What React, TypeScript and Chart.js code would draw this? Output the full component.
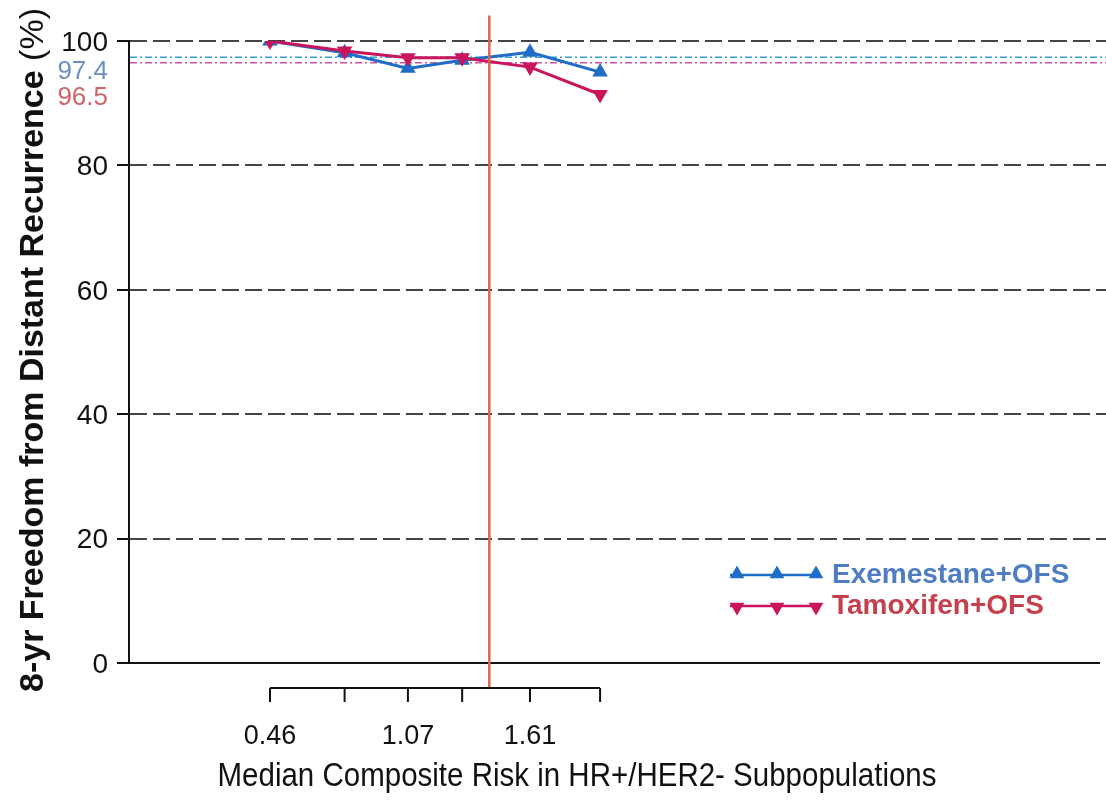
import React, { useEffect, useRef } from 'react';
import { Chart, registerables } from 'chart.js';

Chart.register(...registerables);

// ---- data ----
const riskValues = [0.46, 0.79, 1.07, 1.31, 1.61, 1.92];
const riskTickLabels = ['0.46', '', '1.07', '', '1.61', ''];
const exemestaneOFS = [100, 98.1, 95.6, 96.9, 98.2, 95.0];
const tamoxifenOFS = [100, 98.4, 97.3, 97.3, 95.8, 91.4];
const overallRates = [97.4, 96.5];
const overallLabels = ['97.4', '96.5'];
const seriesNames = ['Exemestane+OFS', 'Tamoxifen+OFS'];
const cutPoint = 1.43;
const yTitleBold = '8-yr Freedom from Distant Recurrence';
const yTitleUnit = '(%)';
const xTitle = 'Median Composite Risk in HR+/HER2- Subpopulations';

// ---- styles ----
const FONT = '"Liberation Sans", Arial, Helvetica, sans-serif';
const EXE_COLOR = '#1f6dc6';
const TAM_COLOR = '#c8155c';
const EXE_TEXT = '#4e7dc1';
const TAM_TEXT = '#c4404c';
const REF_COLORS = ['#3a9fd0', '#c8559a'];
const REF_TEXT = ['#6b8fc2', '#d0626a'];
const CUT_COLOR = '#e0654f';

function triangle(ctx: CanvasRenderingContext2D, cx: number, cy: number, r: number, down: boolean) {
  const s = down ? -1 : 1;
  ctx.beginPath();
  ctx.moveTo(cx, cy - s * r);
  ctx.lineTo(cx + r * 0.866, cy + s * r * 0.5);
  ctx.lineTo(cx - r * 0.866, cy + s * r * 0.5);
  ctx.closePath();
  ctx.fill();
}

const decorations = {
  id: 'decorations',
  beforeDatasetsDraw(chart: any) {
    const { ctx, chartArea: ca, scales } = chart;
    const y = scales.y;
    ctx.save();
    // solid baseline at 0
    ctx.strokeStyle = '#111';
    ctx.lineWidth = 2;
    ctx.beginPath();
    const y0 = y.getPixelForValue(0);
    ctx.moveTo(ca.left, y0);
    ctx.lineTo(ca.right - 6, y0);
    ctx.stroke();
    // overall reference lines (dash-dot)
    overallRates.forEach((v, i) => {
      const py = y.getPixelForValue(v);
      ctx.setLineDash([7, 3, 2, 3]);
      ctx.strokeStyle = REF_COLORS[i];
      ctx.lineWidth = 1.5;
      ctx.beginPath();
      ctx.moveTo(ca.left + 1, py);
      ctx.lineTo(ca.right, py);
      ctx.stroke();
    });
    ctx.restore();
  },
  afterDatasetsDraw(chart: any) {
    const { ctx, chartArea: ca, scales } = chart;
    const x = scales.x;
    const y = scales.y;
    ctx.save();

    // vertical cut-point line
    const cx = x.getPixelForValue(cutPoint);
    const axisY = ca.bottom + 25;
    ctx.strokeStyle = CUT_COLOR;
    ctx.lineWidth = 2.5;
    ctx.beginPath();
    ctx.moveTo(cx, y.getPixelForValue(104.1));
    ctx.lineTo(cx, axisY);
    ctx.stroke();

    // x axis (drawn only over the data range)
    const xFirst = x.getPixelForValue(riskValues[0]);
    const xLast = x.getPixelForValue(riskValues[riskValues.length - 1]);
    ctx.strokeStyle = '#111';
    ctx.lineWidth = 2;
    ctx.beginPath();
    ctx.moveTo(xFirst, axisY);
    ctx.lineTo(xLast, axisY);
    riskValues.forEach((v) => {
      const px = x.getPixelForValue(v);
      ctx.moveTo(px, axisY);
      ctx.lineTo(px, axisY + 14);
    });
    ctx.stroke();
    ctx.fillStyle = '#111';
    ctx.font = `27px ${FONT}`;
    ctx.textAlign = 'center';
    ctx.textBaseline = 'middle';
    riskValues.forEach((v, i) => {
      if (riskTickLabels[i]) ctx.fillText(riskTickLabels[i], x.getPixelForValue(v), axisY + 49);
    });

    // x title (condensed)
    ctx.save();
    ctx.font = `33px ${FONT}`;
    const w = ctx.measureText(xTitle).width;
    ctx.translate(577, 777);
    ctx.scale(719 / w, 1);
    ctx.fillText(xTitle, 0, 0);
    ctx.restore();

    // y title
    ctx.save();
    ctx.font = `bold 34px ${FONT}`;
    const wb = ctx.measureText(yTitleBold + ' ').width;
    ctx.font = `34px ${FONT}`;
    const wu = ctx.measureText(yTitleUnit).width;
    const total = wb + wu;
    ctx.translate(43, 350);
    ctx.rotate(-Math.PI / 2);
    ctx.textAlign = 'left';
    ctx.textBaseline = 'alphabetic';
    ctx.font = `bold 34px ${FONT}`;
    ctx.fillText(yTitleBold, -total / 2, 0);
    ctx.font = `34px ${FONT}`;
    ctx.fillText(yTitleUnit, -total / 2 + wb, 0);
    ctx.restore();

    // overall rate labels
    ctx.font = `26px ${FONT}`;
    ctx.textAlign = 'right';
    ctx.textBaseline = 'middle';
    const top = y.getPixelForValue(100);
    ctx.fillStyle = REF_TEXT[0];
    ctx.fillText(overallLabels[0], 108, top + 31);
    ctx.fillStyle = REF_TEXT[1];
    ctx.fillText(overallLabels[1], 108, top + 57);

    // legend
    const legendRows = [
      { y: 575, color: EXE_COLOR, text: EXE_TEXT, down: false },
      { y: 606, color: TAM_COLOR, text: TAM_TEXT, down: true },
    ];
    legendRows.forEach((row, i) => {
      ctx.strokeStyle = row.color;
      ctx.fillStyle = row.color;
      ctx.lineWidth = 2.5;
      ctx.beginPath();
      ctx.moveTo(730, row.y);
      ctx.lineTo(820, row.y);
      ctx.stroke();
      [737, 777, 816].forEach((mx) => triangle(ctx, mx, row.y + (row.down ? 1 : -1), 8.5, row.down));
      ctx.font = `bold 28px ${FONT}`;
      ctx.textAlign = 'left';
      ctx.textBaseline = 'middle';
      ctx.fillStyle = row.text;
      ctx.fillText(seriesNames[i], 832, row.y);
    });

    ctx.restore();
  },
};

export default function App() {
  const canvasRef = useRef<HTMLCanvasElement | null>(null);

  useEffect(() => {
    const canvas = canvasRef.current;
    if (!canvas) return;
    const chart = new Chart(canvas, {
      type: 'line',
      data: {
        datasets: [
          {
            label: seriesNames[0],
            data: riskValues.map((v, i) => ({ x: v, y: exemestaneOFS[i] })),
            borderColor: EXE_COLOR,
            backgroundColor: EXE_COLOR,
            borderWidth: 3,
            pointStyle: 'triangle',
            pointRadius: 9,
            pointBorderWidth: 0,
            pointRotation: 0,
            tension: 0,
            order: 2,
          },
          {
            label: seriesNames[1],
            data: riskValues.map((v, i) => ({ x: v, y: tamoxifenOFS[i] })),
            borderColor: TAM_COLOR,
            backgroundColor: TAM_COLOR,
            borderWidth: 3,
            pointStyle: 'triangle',
            pointRadius: 9,
            pointBorderWidth: 0,
            pointRotation: 180,
            tension: 0,
            order: 1,
          },
        ],
      },
      options: {
        responsive: false,
        animation: false,
        devicePixelRatio: 1,
        layout: { autoPadding: false, padding: { left: 0, right: 0, top: 41, bottom: 140 } },
        plugins: {
          legend: { display: false },
          tooltip: { enabled: false },
          title: { display: false },
        },
        scales: {
          x: {
            type: 'linear',
            display: false,
            min: -0.1636,
            max: 4.1576,
          },
          y: {
            type: 'linear',
            min: 0,
            max: 100,
            afterFit: (scale: any) => {
              scale.width = 129;
            },
            ticks: {
              stepSize: 20,
              padding: 9,
              labelOffset: 2,
              color: '#111',
              font: { family: FONT, size: 28 },
            },
            grid: {
              color: (c: any) => (c.tick && c.tick.value === 0 ? 'rgba(0,0,0,0)' : '#444'),
              lineWidth: 2,
              tickLength: 12,
              tickColor: '#111',
              tickWidth: 2,
            },
            border: {
              display: true,
              color: '#111',
              width: 2,
              dash: [17, 6],
            },
          },
        },
      },
      plugins: [decorations],
    });
    return () => chart.destroy();
  }, []);

  return (
    <div style={{ position: 'fixed', left: 0, top: 0, width: 1106, height: 803, background: '#fff' }}>
      <canvas ref={canvasRef} width={1106} height={803} />
    </div>
  );
}
